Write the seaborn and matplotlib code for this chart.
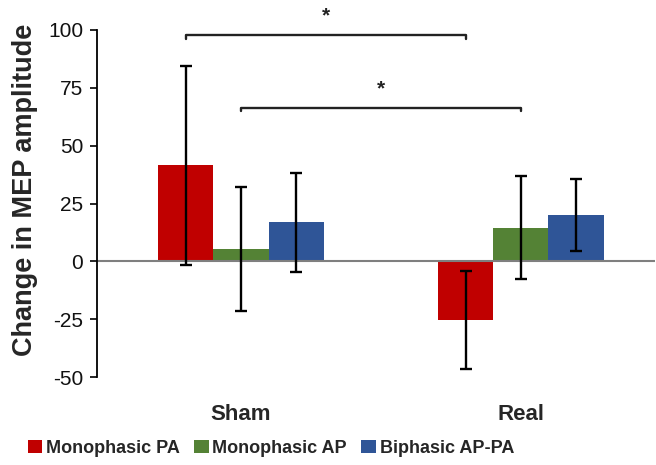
import matplotlib
matplotlib.use("Agg")
import matplotlib.pyplot as plt
import seaborn as sns
import pandas as pd
import numpy as np

groups = ["Sham", "Real"]
series = ["Monophasic PA", "Monophasic AP", "Biphasic AP-PA"]
mono_pa = [41.5, -25.3]
mono_ap = [5.2, 14.5]
biph = [16.9, 20.1]
err_pa = [43.0, 21.0]
err_ap = [26.8, 22.3]
err_bi = [21.5, 15.5]
colors = ["#C00000", "#548235", "#2F5597"]
yticks = [-50, -25, 0, 25, 50, 75, 100]
# significance brackets: (series index, height)
brackets = [(0, 97.8), (1, 66.4)]

sns.set_style("white")
plt.rcParams["font.family"] = ["Liberation Sans", "DejaVu Sans"]

rows = []
for s, vals, errs in zip(series, [mono_pa, mono_ap, biph], [err_pa, err_ap, err_bi]):
    for g, v, e in zip(groups, vals, errs):
        rows.append({"Condition": g, "Waveform": s, "Change": v, "Err": e})
df = pd.DataFrame(rows)

fig = plt.figure(figsize=(6.56, 4.65), dpi=100)
ax = fig.add_axes([0.148, 0.189, 0.851, 0.7465])

sns.barplot(data=df, x="Condition", y="Change", hue="Waveform", order=groups,
            hue_order=series, palette=colors, width=0.59, errorbar=None,
            saturation=1, ax=ax, legend=True, linewidth=0)

centers = {}
for si, (cont, s) in enumerate(zip(ax.containers, series)):
    sub = df[df["Waveform"] == s].set_index("Condition").loc[groups]
    xs = [p.get_x() + p.get_width() / 2 for p in cont.patches]
    centers[si] = xs
    ax.errorbar(xs, sub["Change"].values, yerr=sub["Err"].values, fmt="none",
                ecolor="black", elinewidth=1.7, capsize=4, capthick=1.7, zorder=5)

ax.axhline(0, color="#7f7f7f", lw=1.5, zorder=1)
ax.set_ylim(-50, 100)
ax.set_xlim(-0.514, 1.48)
ax.set_yticks(yticks)
ax.set_yticklabels([str(t) for t in yticks], fontsize=15, color="#111111")
ax.tick_params(axis="y", direction="out", length=5, width=1.2, color="black", left=True, pad=5)
ax.tick_params(axis="x", length=0, pad=19)
for lbl in ax.get_xticklabels():
    lbl.set_fontsize(16)
    lbl.set_fontweight("bold")
ax.set_xlabel("")
ax.set_ylabel("Change in MEP amplitude", fontsize=19.5, fontweight="bold")
ax.yaxis.set_label_coords(-0.106, 0.54)
for side in ["top", "right", "bottom"]:
    ax.spines[side].set_visible(False)
ax.spines["left"].set_color("black")
ax.spines["left"].set_linewidth(1.3)

for si, h in brackets:
    x0, x1 = centers[si][0], centers[si][1]
    ax.plot([x0, x0, x1, x1], [h - 1.5, h, h, h - 1.5], color="#222222", lw=1.7,
            clip_on=False, zorder=6)
    ax.text((x0 + x1) / 2, h + 4, "*", ha="center", va="bottom", fontsize=15,
            fontweight="bold", color="#222222", clip_on=False)

leg = ax.get_legend()
handles = leg.legend_handles
leg.remove()
fig.legend(handles, series, loc="center", bbox_to_anchor=(0.413, 0.036), ncol=3,
           frameon=False, prop={"weight": "bold", "size": 13},
           handlelength=0.8, handleheight=0.8, handletextpad=0.2, columnspacing=0.8)

fig.savefig("out.png", dpi=100)
